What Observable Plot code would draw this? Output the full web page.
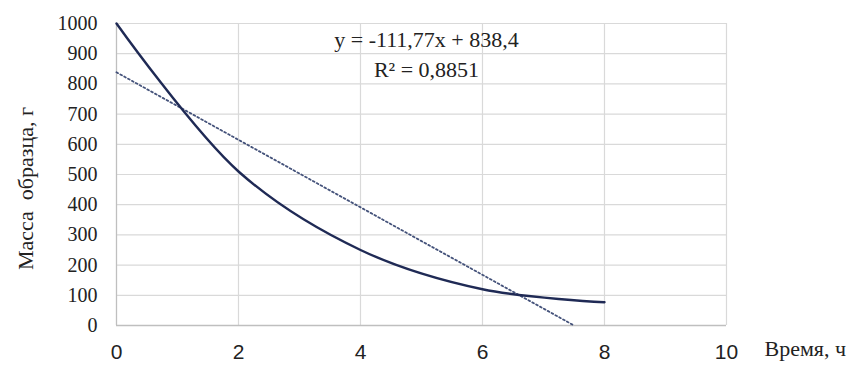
<!DOCTYPE html>
<html>
<head>
<meta charset="utf-8">
<script src="https://cdn.jsdelivr.net/npm/d3@7"></script>
<script src="https://cdn.jsdelivr.net/npm/@observablehq/plot@0.6"></script>
<style>
  html, body { margin: 0; padding: 0; background: #fff; }
  #chart svg text { font-family: "Liberation Serif", "Times New Roman", "DejaVu Serif", serif !important; }
  #chart svg g.xt text { font-family: "Liberation Sans", Arial, "DejaVu Sans", sans-serif !important; }
</style>
</head>
<body>
<div id="chart"></div>
<script>
// Data
const hours = [0, 2, 4, 6, 8];
const mass = [1000, 510, 250, 120, 77];
// Linear trend line coefficients (from the chart's label)
const trendSlope = [-111.77];
const trendIntercept = [838.4];
const trendR2 = ["0,8851"];
const xTicks = [0, 2, 4, 6, 8, 10];
const yTicks = [0, 100, 200, 300, 400, 500, 600, 700, 800, 900, 1000];
const xLabel = "Время, ч";
const yLabel = "Масса  образца, г";

const data = hours.map((h, i) => ({x: h, y: mass[i]}));
const a = trendSlope[0], b = trendIntercept[0];
const xEnd = -b / a; // where the trend reaches zero
const trend = [{x: 0, y: b}, {x: xEnd, y: 0}];
const eq = `y = ${String(a).replace(".", ",")}x + ${String(b).replace(".", ",")}\nR² = ${trendR2[0]}`;

const chart = Plot.plot({
  width: 858,
  height: 365,
  marginLeft: 116,
  marginRight: 132,
  marginTop: 23,
  marginBottom: 40,
  x: {domain: [0, 10], ticks: xTicks},
  y: {domain: [0, 1000], ticks: yTicks},
  style: {background: "#fff", color: "#222"},
  marks: [
    Plot.gridY(yTicks, {stroke: "#d9d9d9", strokeOpacity: 1, strokeWidth: 1.2}),
    Plot.gridX(xTicks, {stroke: "#d9d9d9", strokeOpacity: 1, strokeWidth: 1.2}),
    Plot.ruleY([0], {stroke: "#bfbfbf", strokeWidth: 1.5}),
    Plot.ruleX([0], {stroke: "#bfbfbf", strokeWidth: 1.2}),
    Plot.axisX(xTicks, {className: "xt", tickSize: 0, tickPadding: 19, fontSize: 21, fill: "#222", label: null, tickFormat: d => String(d)}),
    Plot.axisY(yTicks, {tickSize: 0, tickPadding: 19, fontSize: 20, fill: "#222", label: null, tickFormat: d => String(d)}),
    Plot.line(trend, {x: "x", y: "y", stroke: "#44527a", strokeWidth: 1.8, strokeDasharray: "1.8,2.6"}),
    Plot.line(data, {x: "x", y: "y", curve: "catmull-rom", stroke: "#1f2a55", strokeWidth: 2.4}),
    Plot.text([eq], {frameAnchor: "top", dx: 5, dy: 2, lineAnchor: "top", lineHeight: 1.36, fontSize: 22, fill: "#222"}),
    Plot.text([xLabel], {frameAnchor: "bottom-right", textAnchor: "start", lineAnchor: "middle", dx: 38, dy: 23, fontSize: 22, fill: "#222"}),
    Plot.text([yLabel], {frameAnchor: "left", rotate: -90, textAnchor: "middle", lineAnchor: "middle", dx: -91, dy: 14, fontSize: 22, fill: "#222"})
  ]
});
document.getElementById("chart").appendChild(chart);
</script>
</body>
</html>
